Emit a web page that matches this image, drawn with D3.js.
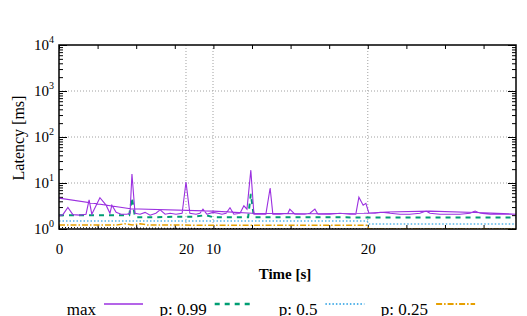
<!DOCTYPE html>
<html>
<head>
<meta charset="utf-8">
<script src="https://cdn.jsdelivr.net/npm/d3@7"></script>
<style>
  body { margin: 0; background: white; }
  text { font-family: "Liberation Serif", serif; }
</style>
</head>
<body>
<div id="chart"></div>
<script>
// latency percentiles over time, log y axis

var width = 527, height = 316;
var plotLeft = 59, plotRight = 516, plotTop = 45, plotBottom = 229;

// x tick labels (the axis labels wrap around, as in the picture)
var labelTimes = [0, 32.9, 39.9, 80.0];
var labelText = ["0", "20", "10", "20"];
var minorTimes = [0, 10, 20, 30, 40, 50, 60, 70, 80, 90, 100, 110];
var yMajor = [1, 10, 100, 1000, 10000];

// max series: [time, ms] in drawing order (goes forward, then back)
var maxT = [0, 1.0, 2.3, 3.6, 5.4, 7.0, 7.8, 8.5, 10.6, 12.2, 13.2, 13.7, 14.8, 16.1, 17.6, 18.4, 18.9, 19.7,
  21.0, 22.3, 23.6, 25.1, 26.2, 27.5, 28.8, 30.3, 31.9, 32.9, 33.9, 35.5, 36.5, 37.3, 38.3, 39.9,
  41.2, 42.2, 43.3, 44.3, 45.3, 46.9, 47.9, 48.7, 49.7, 50.5, 52.1, 53.6, 54.7, 55.4, 57.3, 59.3,
  59.8, 61.1, 63.7, 65.0, 66.3, 67.1, 70.2, 72.8, 75.4, 76.9, 77.7, 78.8, 79.5, 80.3, 81.9, 83.2,
  84.2, 85.8, 88.3, 90.9, 93.5, 95.1, 96.1, 98.7, 101.3, 103.9, 106.5, 107.8, 109.1, 111.7, 114.2,
  116.8, 118.4,
  110, 96, 85, 79, 65, 50, 40, 18.5, 0];
var maxV = [1.95, 2.05, 2.95, 2.05, 2.0, 2.1, 4.3, 2.1, 4.8, 3.3, 2.2, 3.3, 2.3, 2.1, 2.1, 2.2, 15.7, 2.2,
  2.1, 2.3, 2.0, 2.2, 2.6, 2.1, 2.2, 2.1, 2.2, 10.5, 2.2, 2.1, 2.2, 2.7, 2.1, 2.3,
  2.2, 2.1, 2.2, 2.9, 2.1, 2.2, 3.2, 2.7, 19.0, 2.1, 2.1, 2.1, 7.8, 2.1, 2.1, 2.2,
  2.7, 2.1, 2.1, 2.2, 2.7, 2.1, 2.1, 2.2, 2.1, 2.1, 4.9, 3.3, 3.6, 2.2, 2.2, 2.3,
  2.3, 2.2, 2.1, 2.1, 2.2, 2.45, 2.2, 2.1, 2.1, 2.1, 2.2, 2.45, 2.2, 2.1, 2.1,
  2.1, 2.1,
  2.25, 2.45, 2.35, 2.2, 2.15, 2.2, 2.45, 2.75, 4.7];

var p99T = [0, 5, 10, 15, 18.2, 18.9, 19.7, 25, 30, 35, 38, 40, 45, 49.0, 49.7, 50.5, 60, 70, 80, 90, 100, 110, 118.4];
var p99V = [2.0, 2.0, 2.0, 2.0, 2.0, 4.8, 1.8, 1.8, 1.85, 1.85, 2.0, 1.8, 1.8, 1.8, 5.8, 1.8, 1.8, 1.8, 1.78, 1.78, 1.78, 1.78, 1.78];

var p50T = [0, 20, 40, 60, 79.8, 80.3, 100, 118.4];
var p50V = [1.5, 1.5, 1.5, 1.5, 1.5, 1.28, 1.28, 1.28];

var p25T = [0, 15, 17, 19, 21, 23, 30, 40, 60, 79.8, 80.3, 100, 118.4];
var p25V = [1.22, 1.22, 1.3, 1.22, 1.3, 1.22, 1.22, 1.2, 1.2, 1.2, 1.0, 1.0, 1.0];

var minT = [0, 20, 40, 60, 80, 100, 118.4];
var minV = [1.07, 1.05, 1.02, 1.01, 1.0, 1.0, 1.0];

var series = [
  { name: "max", t: maxT, v: maxV, color: "#9b30e0", width: 1.1, dash: null },
  { name: "p: 0.99", t: p99T, v: p99V, color: "#009e73", width: 2, dash: "5,5" },
  { name: "p: 0.5", t: p50T, v: p50V, color: "#56b4e9", width: 1.5, dash: "1.5,2" },
  { name: "p: 0.25", t: p25T, v: p25V, color: "#e69f00", width: 1.5, dash: "6,2,1.5,2" },
  { name: "min", t: minT, v: minV, color: "#000000", width: 1.2, dash: "1,2", nokey: true }
];

var svg = d3.select("#chart")
    .append("svg")
    .attr("width", width)
    .attr("height", height);

svg.append("rect")
    .attr("width", "100%")
    .attr("height", "100%")
    .attr("fill", "white");

var x = d3.scaleLinear().domain([0, 118.4]).range([plotLeft, plotRight]);
var y = d3.scaleLog().domain([1, 10000]).range([plotBottom, plotTop]);

// grid
var grid = svg.append("g")
    .attr("stroke", "#a0a0a0")
    .attr("stroke-width", 1)
    .attr("stroke-dasharray", "1,2");

grid.selectAll("line.h")
    .data([10, 100, 1000])
    .enter().append("line")
    .attr("x1", plotLeft).attr("x2", plotRight)
    .attr("y1", function(d) { return y(d); })
    .attr("y2", function(d) { return y(d); });

grid.selectAll("line.v")
    .data(labelTimes.slice(1))
    .enter().append("line")
    .attr("y1", plotTop).attr("y2", plotBottom)
    .attr("x1", function(d) { return x(d); })
    .attr("x2", function(d) { return x(d); });

// y ticks, inward, mirrored
var yMinor = y.ticks().filter(function(d) { return yMajor.indexOf(d) < 0; });

function yTicks(axisFn, pos, vals, size) {
    svg.append("g")
        .attr("transform", "translate(" + pos + ",0)")
        .call(axisFn(y).tickValues(vals).tickSize(size).tickFormat(""))
        .call(function(g) { g.select(".domain").remove(); });
}
yTicks(d3.axisLeft, plotLeft, yMajor, -8);
yTicks(d3.axisLeft, plotLeft, yMinor, -4);
yTicks(d3.axisRight, plotRight, yMajor, -8);
yTicks(d3.axisRight, plotRight, yMinor, -4);

// x ticks, inward, mirrored
svg.append("g")
    .attr("transform", "translate(0," + plotBottom + ")")
    .call(d3.axisBottom(x).tickValues(minorTimes).tickSize(-4).tickFormat(""))
    .call(function(g) { g.select(".domain").remove(); });
svg.append("g")
    .attr("transform", "translate(0," + plotTop + ")")
    .call(d3.axisTop(x).tickValues(minorTimes).tickSize(-4).tickFormat(""))
    .call(function(g) { g.select(".domain").remove(); });

// x tick labels
svg.append("g")
    .attr("transform", "translate(0," + plotBottom + ")")
    .call(d3.axisBottom(x).tickValues(labelTimes).tickSize(0).tickPadding(14)
        .tickFormat(function(d, i) { return labelText[i]; }))
    .call(function(g) {
        g.select(".domain").remove();
        g.selectAll("text")
            .attr("font-family", "Liberation Serif")
            .attr("font-size", 15)
            .attr("fill", "black");
    });

// y tick labels 10^n
var yl = svg.append("g").selectAll("text")
    .data(yMajor)
    .enter().append("text")
    .attr("x", 54)
    .attr("y", function(d) { return y(d) + 5; })
    .attr("text-anchor", "end")
    .attr("font-family", "DejaVu Serif")
    .attr("font-size", 15);
yl.append("tspan").text("10");
yl.append("tspan")
    .attr("font-size", 10)
    .attr("dy", -7)
    .text(function(d) { return Math.round(Math.log10(d)); });

// lines
svg.append("clipPath").attr("id", "plot-clip")
    .append("rect")
    .attr("x", plotLeft).attr("y", plotTop)
    .attr("width", plotRight - plotLeft).attr("height", plotBottom - plotTop);

var line = d3.line()
    .x(function(d) { return x(d[0]); })
    .y(function(d) { return y(d[1]); });

var lines = svg.append("g").attr("clip-path", "url(#plot-clip)");
series.slice().reverse().forEach(function(s) {
    var pts = s.t.map(function(t, i) { return [t, s.v[i]]; });
    lines.append("path")
        .datum(pts)
        .attr("fill", "none")
        .attr("stroke", s.color)
        .attr("stroke-width", s.width)
        .attr("stroke-dasharray", s.dash)
        .attr("d", line);
});

// frame
svg.append("rect")
    .attr("x", plotLeft).attr("y", plotTop)
    .attr("width", plotRight - plotLeft).attr("height", plotBottom - plotTop)
    .attr("fill", "none")
    .attr("stroke", "black")
    .attr("stroke-width", 1.5);

// axis titles
svg.append("text")
    .attr("x", 285).attr("y", 279)
    .attr("text-anchor", "middle")
    .attr("font-size", 15)
    .attr("font-weight", "bold")
    .text("Time [s]");

svg.append("text")
    .attr("transform", "translate(24,138) rotate(-90)")
    .attr("text-anchor", "middle")
    .attr("font-size", 16)
    .text("Latency [ms]");

// key along the bottom (partly cut off by the window)
var keyItems = series.filter(function(s) { return !s.nokey; });
var key = svg.append("g").selectAll("g")
    .data(keyItems)
    .enter().append("g")
    .attr("transform", function(d, i) { return "translate(" + (104 + i * 110.7) + ",304)"; });

key.append("text")
    .attr("x", -8).attr("y", 11)
    .attr("text-anchor", "end")
    .attr("font-size", 17)
    .text(function(d) { return d.name; });

key.append("line")
    .attr("x1", 0).attr("x2", 39)
    .attr("stroke", function(d) { return d.color; })
    .attr("stroke-width", function(d) { return d.width + 0.3; })
    .attr("stroke-dasharray", function(d) { return d.dash; });
</script>
</body>
</html>
